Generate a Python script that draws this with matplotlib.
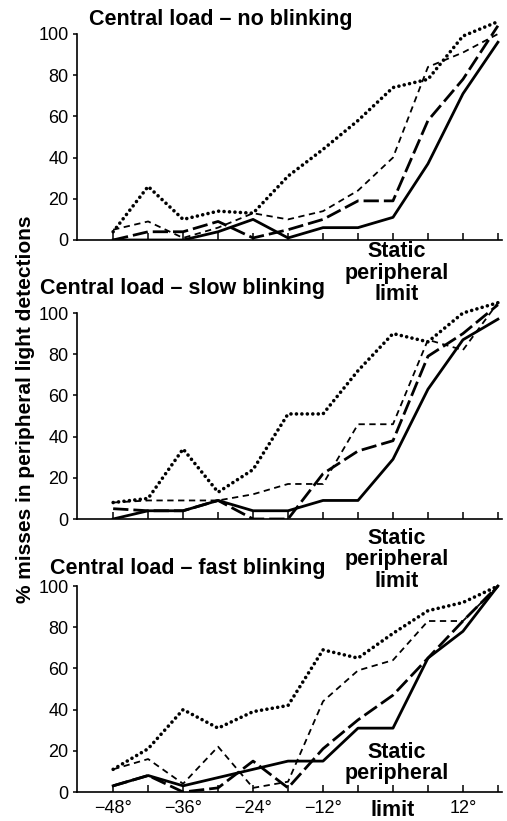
import matplotlib
matplotlib.use("Agg")
import matplotlib.pyplot as plt

# eccentricity of the peripheral light, degrees
angles = [-48, -42, -36, -30, -24, -18, -12, -6, 0, 6, 12, 18]
tick_labels = ["\u221248\u00b0", "", "\u221236\u00b0", "", "\u221224\u00b0", "",
               "\u221212\u00b0", "", "limit", "", "12\u00b0", ""]

titles = ["Central load \u2013 no blinking",
          "Central load \u2013 slow blinking",
          "Central load \u2013 fast blinking"]

# % misses, one list per line style, one set per panel
no_dotted = [4, 26, 10, 14, 13, 31, 44, 58, 74, 78, 99, 106]
no_short = [5, 9, 1, 6, 13, 10, 14, 24, 40, 84, 91, 100]
no_long = [0, 4, 4, 9, 1, 5, 10, 19, 19, 58, 78, 104]
no_solid = [0, 0, 0, 4, 10, 1, 6, 6, 11, 37, 71, 96]

slow_dotted = [8, 10, 34, 13, 24, 51, 51, 72, 90, 86, 100, 105]
slow_short = [8, 9, 9, 9, 12, 17, 17, 46, 46, 87, 82, 105]
slow_long = [5, 4, 4, 9, 0, 0, 22, 33, 38, 79, 90, 104]
slow_solid = [0, 4, 4, 9, 4, 4, 9, 9, 29, 63, 87, 97]

fast_dotted = [11, 21, 40, 31, 39, 42, 69, 65, 77, 88, 92, 100]
fast_short = [11, 16, 4, 22, 2, 5, 44, 59, 64, 83, 83, 100]
fast_long = [3, 8, 0, 2, 15, 2, 21, 35, 47, 65, 83, 100]
fast_solid = [3, 8, 3, 7, 11, 15, 15, 31, 31, 65, 78, 100]

panels = [
    (no_dotted, no_short, no_long, no_solid),
    (slow_dotted, slow_short, slow_long, slow_solid),
    (fast_dotted, fast_short, fast_long, fast_solid),
]

W, H = 507, 821
plt.rcParams["font.family"] = ["Liberation Sans", "DejaVu Sans"]
fig = plt.figure(figsize=(W / 100, H / 100), dpi=100)

# pixel positions of the zero line of each panel
zero_rows = [240, 519, 792]
left_px, right_px = 77, 502
px_per_unit = 2.06

for i, (dotted, short, long_, solid) in enumerate(panels):
    bottom = 1 - zero_rows[i] / H
    ax = fig.add_axes([left_px / W, bottom, (right_px - left_px) / W,
                       110 * px_per_unit / H])
    ax.plot(angles, dotted, color="black", lw=2.6,
            linestyle=(0, (0.01, 1.5)), dash_capstyle="round")
    ax.plot(angles, short, color="black", lw=1.3, linestyle=(0, (3.5, 2.5)))
    ax.plot(angles, long_, color="black", lw=2.0, linestyle=(0, (5.5, 1.8)))
    ax.plot(angles, solid, color="black", lw=2.0)

    ax.set_xlim(-54.2, 18.7)
    ax.set_ylim(0, 110)
    ax.spines["top"].set_visible(False)
    ax.spines["right"].set_visible(False)
    ax.spines["left"].set_bounds(0, 100)
    ax.spines["left"].set_linewidth(1.2)
    ax.spines["bottom"].set_linewidth(1.2)
    ax.set_yticks([0, 20, 40, 60, 80, 100])
    ax.tick_params(axis="y", direction="out", length=3, width=1.1,
                   pad=3, labelsize=13)
    ax.set_xticks(angles)
    ax.tick_params(axis="x", direction="in", length=5, width=1.1,
                   pad=6, labelsize=13)
    if i == 2:
        ax.set_xticklabels(tick_labels)
        for lab in ax.get_xticklabels():
            if lab.get_text() == "limit":
                lab.set_fontweight("bold")
                lab.set_fontsize(15.5)
    else:
        ax.set_xticklabels([])

title_pos = [(89, 20), (40, 288), (50, 568)]
for (tx, ty), t in zip(title_pos, titles):
    fig.text(tx / W, 1 - ty / H, t, fontsize=15.5, fontweight="bold",
             ha="left", va="center")

fig.text(397 / W, 1 - 273 / H, "Static\nperipheral\nlimit", fontsize=15.5,
         fontweight="bold", ha="center", va="center", linespacing=1.05)
fig.text(397 / W, 1 - 560 / H, "Static\nperipheral\nlimit", fontsize=15.5,
         fontweight="bold", ha="center", va="center", linespacing=1.05)
fig.text(397 / W, 1 - 763 / H, "Static\nperipheral", fontsize=15.5,
         fontweight="bold", ha="center", va="center", linespacing=1.05)

fig.text(26 / W, 1 - 409 / H, "% misses in peripheral light detections",
         fontsize=15, fontweight="bold", rotation=90,
         ha="center", va="center")

fig.savefig("out.png", dpi=100)
